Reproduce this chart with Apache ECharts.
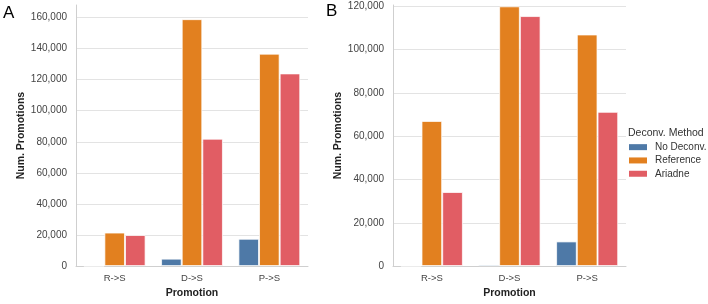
<!DOCTYPE html>
<html>
<head>
<meta charset="utf-8">
<script src="https://cdn.jsdelivr.net/npm/echarts@6/dist/echarts.min.js"></script>
<style>
  html, body { margin: 0; padding: 0; background: #fff; }
  #chart { width: 708px; height: 304px; }
</style>
</head>
<body>
<div id="chart"></div>
<script>
    'use strict';

    const categories = ['R->S', 'D->S', 'P->S'];
    const methods = ['No Deconv.', 'Reference', 'Ariadne'];
    const colors = ['#4e79a7', '#e2801f', '#e15d64'];

    // panel A
    const aNoDeconv = [150, 4800, 17600];
    const aReference = [21600, 158900, 136700];
    const aAriadne = [20000, 82000, 124000];

    // panel B
    const bNoDeconv = [100, 750, 11400];
    const bReference = [67000, 119900, 106900];
    const bAriadne = [34200, 115400, 71200];

    const font = "'Liberation Sans', Arial, sans-serif";

    function xAxis(idx) {
        return {
            type: 'category',
            gridIndex: idx,
            data: categories,
            name: 'Promotion',
            nameLocation: 'middle',
            nameGap: 19,
            nameTextStyle: { fontFamily: font, fontSize: 10.5, fontWeight: 'bold', color: '#222' },
            axisLine: { lineStyle: { color: '#cfcfcf', width: 1 } },
            axisTick: { show: false },
            axisLabel: { fontFamily: font, fontSize: 9.5, color: '#444', margin: 7 }
        };
    }

    function yAxis(idx, max) {
        return {
            type: 'value',
            gridIndex: idx,
            min: 0,
            max: max,
            interval: 20000,
            name: 'Num. Promotions',
            nameLocation: 'middle',
            nameGap: idx === 0 ? 48 : 46,
            nameTextStyle: { fontFamily: font, fontSize: 10.5, fontWeight: 'bold', color: '#222' },
            axisLine: { show: true, lineStyle: { color: '#cfcfcf', width: 1 } },
            axisTick: { show: false },
            splitLine: { show: true, showMaxLine: false, lineStyle: { color: '#e3e3e3', width: 1 } },
            axisLabel: {
                fontFamily: font, fontSize: 10, color: '#444', margin: 9,
                showMaxLabel: false,
                formatter: v => (v % 20000 === 0 ? v.toLocaleString('en-US') : '')
            }
        };
    }

    function bar(name, data, idx, colorIdx) {
        return {
            type: 'bar',
            name: name,
            xAxisIndex: idx,
            yAxisIndex: idx,
            data: data,
            barGap: '0%',
            barCategoryGap: '20%',
            itemStyle: { color: colors[colorIdx], borderColor: 'rgba(255,255,255,0.75)', borderWidth: 1 }
        };
    }

    const chart = echarts.init(document.getElementById('chart'), null, { renderer: 'canvas' });

    chart.setOption({
        animation: false,
        grid: [
            { left: 76, top: 5, width: 232, height: 267 },
            { left: 393, top: 5, width: 233, height: 267 }
        ],
        xAxis: [xAxis(0), xAxis(1)],
        yAxis: [yAxis(0, 168000), yAxis(1, 120500)],
        legend: {
            orient: 'vertical',
            left: 629,
            top: 141.5,
            padding: 0,
            itemWidth: 18,
            itemHeight: 6,
            itemGap: 2,
            icon: 'rect',
            data: methods,
            itemStyle: { borderWidth: 0 },
            textStyle: { fontFamily: font, fontSize: 10, color: '#333', lineHeight: 11.3, padding: [0, 0, 0, 3] }
        },
        graphic: [
            { type: 'text', left: 3, top: 5, style: { text: 'A', font: '17px ' + font, fill: '#000' } },
            { type: 'text', left: 326, top: 3, style: { text: 'B', font: '17px ' + font, fill: '#000' } },
            { type: 'text', left: 628, top: 127.5, style: { text: 'Deconv. Method', font: '10.5px ' + font, fill: '#333' } }
        ],
        series: [
            bar(methods[0], aNoDeconv, 0, 0),
            bar(methods[1], aReference, 0, 1),
            bar(methods[2], aAriadne, 0, 2),
            bar(methods[0], bNoDeconv, 1, 0),
            bar(methods[1], bReference, 1, 1),
            bar(methods[2], bAriadne, 1, 2)
        ]
    });
</script>
</body>
</html>
